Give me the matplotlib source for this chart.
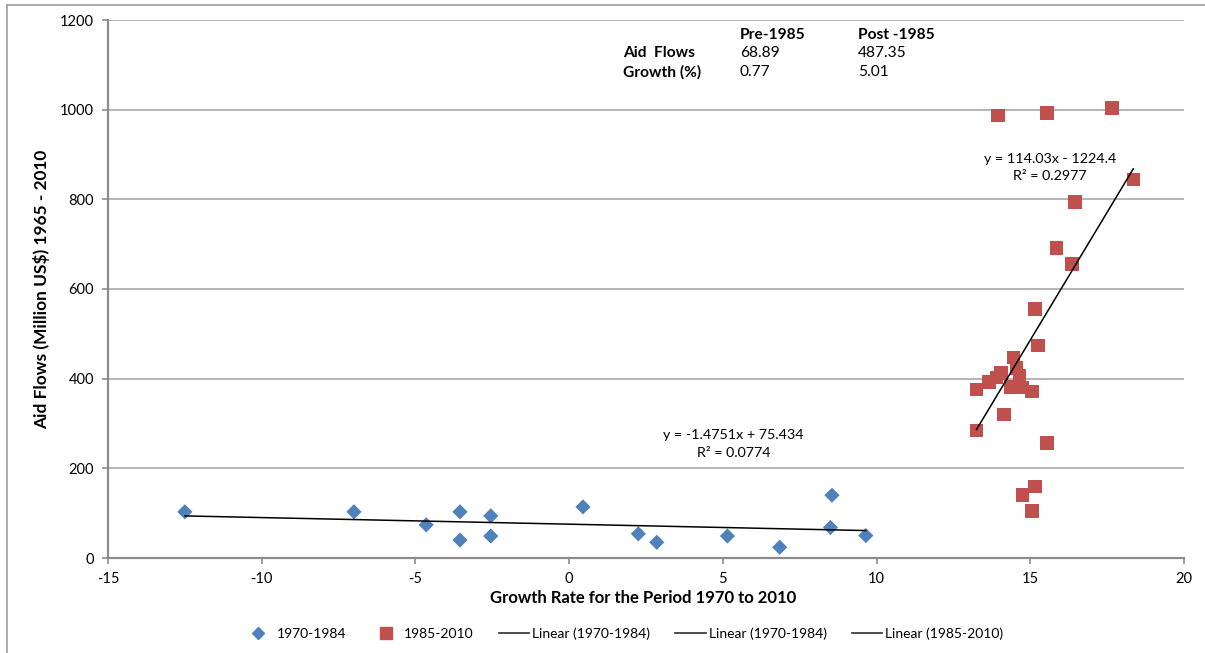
import matplotlib
matplotlib.use("Agg")
import matplotlib.pyplot as plt
from matplotlib.lines import Line2D
import numpy as np

# ---- data ----
x_pre = [-12.5, -7.0, -4.65, -3.55, -3.55, -2.55, -2.55, 0.45, 2.25, 2.85, 5.15, 6.85, 8.5, 8.55, 9.65]
y_pre = [103, 103, 74, 103, 40, 94, 49, 114, 54, 35, 49, 24, 68, 140, 50]

x_post = [13.95, 15.55, 17.65, 18.35, 16.45, 15.85, 16.35, 15.15, 15.25, 14.45, 14.55,
          14.65, 14.05, 13.9, 13.65, 13.25, 14.35, 14.75, 15.05, 14.15, 13.25, 15.55,
          15.15, 14.75, 15.05]
y_post = [987, 992, 1004, 844, 794, 692, 656, 555, 474, 447, 424,
          407, 413, 403, 392, 376, 381, 380, 371, 320, 284, 256,
          159, 140, 105]

fit_pre = (-1.4751, 75.434, 0.0774)
fit_post = (114.03, -1224.4, 0.2977)

table_cols = ["Pre-1985", "Post -1985"]
table_rows = ["Aid  Flows", "Growth (%)"]
table_vals = [["68.89", "487.35"], ["0.77", "5.01"]]

legend_labels = ["1970-1984", "1985-2010", "Linear (1970-1984)", "Linear (1970-1984)", "Linear (1985-2010)"]

xticks = [-15, -10, -5, 0, 5, 10, 15, 20]
yticks = [0, 200, 400, 600, 800, 1000, 1200]

BLUE = "#4F81BD"
RED = "#C0504D"
FONT = ["Lato", "DejaVu Sans"]
NARROW = ["Liberation Sans Narrow", "Lato", "DejaVu Sans"]

plt.rcParams["font.family"] = FONT
plt.rcParams["axes.unicode_minus"] = False

W, H = 1205, 653
fig = plt.figure(figsize=(W / 100, H / 100), dpi=100)
ax = fig.add_axes([108 / W, 1 - 558 / H, 1076 / W, 538 / H])

ax.set_xlim(-15, 20)
ax.set_ylim(0, 1200)
ax.set_xticks(xticks)
ax.set_yticks(yticks)
ax.yaxis.grid(True, color="#A8A8A8", lw=1.2)
ax.set_axisbelow(True)
for s in ["top", "right"]:
    ax.spines[s].set_visible(False)
for s in ["left", "bottom"]:
    ax.spines[s].set_color("#8C8C8C")
    ax.spines[s].set_linewidth(1.6)
ax.tick_params(axis="both", colors="#8C8C8C", length=4, width=1.2, labelsize=10.5, labelcolor="black")
ax.tick_params(axis="y", pad=6)
ax.tick_params(axis="x", pad=6)

ax.scatter(x_pre, y_pre, marker="D", s=60, color=BLUE, edgecolors="none", zorder=3)
ax.scatter(x_post, y_post, marker="s", s=95, color=RED, edgecolors="none", zorder=3)

# trend lines from the displayed equations
xa = np.array([min(x_pre), max(x_pre)])
ax.plot(xa, fit_pre[0] * xa + fit_pre[1], color="black", lw=1.1, zorder=4)
xb = np.array([min(x_post), max(x_post)])
ax.plot(xb, fit_post[0] * xb + fit_post[1], color="black", lw=1.1, zorder=4)

def eq_text(m, b):
    sign = "+" if b >= 0 else "-"
    return f"y = {m:g}x {sign} {abs(b):g}"

fs_eq = 10.3
ax.text(733.5, H - 435, eq_text(fit_pre[0], fit_pre[1]), transform=None, ha="center", va="center", fontsize=fs_eq)
ax.text(733.5, H - 453, f"R² = {fit_pre[2]:g}", transform=None, ha="center", va="center", fontsize=fs_eq)
ax.text(1050, H - 159, eq_text(fit_post[0], fit_post[1]), transform=None, ha="center", va="center", fontsize=fs_eq)
ax.text(1050, H - 176, f"R² = {fit_post[2]:g}", transform=None, ha="center", va="center", fontsize=fs_eq)

# summary table
fs_t = 11.2
fig.text(740 / W, 1 - 35 / H, table_cols[0], ha="left", va="center", fontsize=fs_t, fontweight="bold")
fig.text(858 / W, 1 - 35 / H, table_cols[1], ha="left", va="center", fontsize=fs_t, fontweight="bold")
for i, (r, vals) in enumerate(zip(table_rows, table_vals)):
    yy = 1 - (53 + 19 * i) / H
    fig.text(623 / W, yy, r, ha="left", va="center", fontsize=fs_t, fontweight="bold")
    fig.text(740 / W, yy, vals[0], ha="left", va="center", fontsize=fs_t)
    fig.text(858 / W, yy, vals[1], ha="left", va="center", fontsize=fs_t)

ax.set_xlabel("Growth Rate for the Period 1970 to 2010", fontsize=12, fontweight="bold")
ax.set_ylabel("Aid Flows (Million US$) 1965 - 2010", fontsize=12.4, fontweight="bold")
ax.xaxis.set_label_coords((643 - 108) / 1076, -(598 - 558) / 538)
ax.yaxis.set_label_coords(-(108 - 42) / 1076, 0.5)
ax.xaxis.label.set_verticalalignment("center")
ax.yaxis.label.set_verticalalignment("center")

handles = [
    Line2D([], [], marker="D", color=BLUE, ls="none", markersize=6),
    Line2D([], [], marker="s", color=RED, ls="none", markersize=8),
    Line2D([], [], color="#404040", lw=1.3),
    Line2D([], [], color="#404040", lw=1.3),
    Line2D([], [], color="#404040", lw=1.3),
]
leg = fig.legend(handles, legend_labels, loc="center", bbox_to_anchor=(623 / W, 1 - 634 / H),
                 ncol=5, frameon=False, prop={"family": NARROW, "size": 10},
                 handlelength=2.2, handletextpad=0.2, columnspacing=1.8)

# outer chart border
fig.add_artist(Line2D([7 / W, 7 / W], [0, 1 - 5 / H], color="#A0A0A0", lw=1.2))
fig.add_artist(Line2D([7 / W, 1], [1 - 5 / H, 1 - 5 / H], color="#A0A0A0", lw=1.2))

fig.savefig("out.png", dpi=100)
